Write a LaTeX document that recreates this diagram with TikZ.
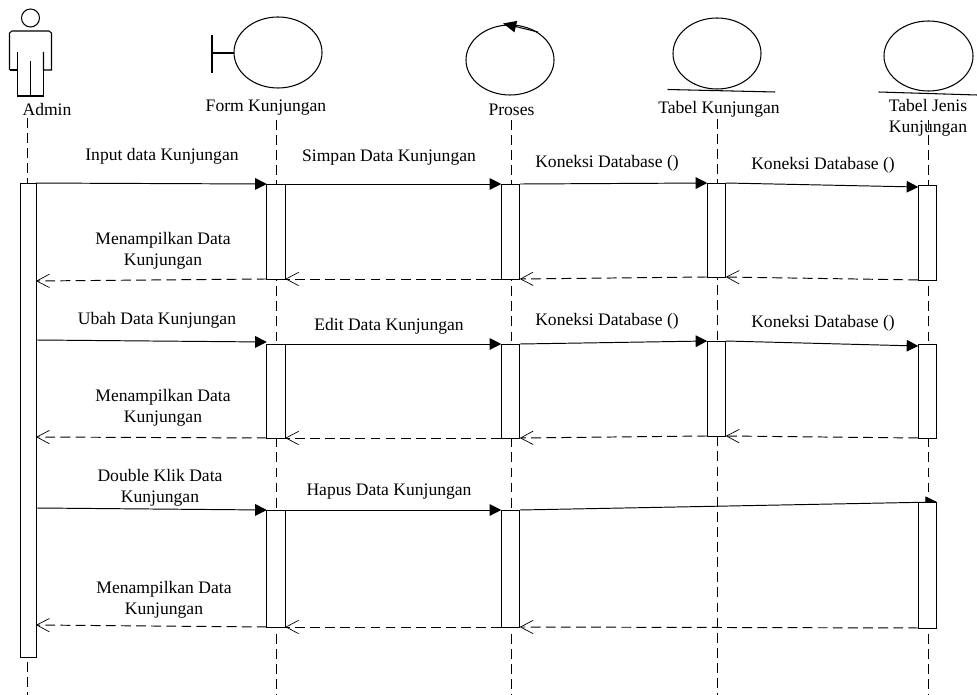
\documentclass[tikz,border=0pt]{standalone}
\usepackage{fontspec}
\setmainfont{Liberation Serif}
\usetikzlibrary{arrows.meta}
\tikzset{
	lifeline/.style={line width=0.55pt, dash pattern=on 5.6pt off 3pt},
	actbar/.style={draw, fill=white, line width=0.55pt, minimum width=0.37cm, inner sep=0pt, outer sep=0pt},
	callmsg/.style={line width=0.55pt, -{Triangle[length=6.6pt, width=6.6pt]}},
	backmsg/.style={line width=0.55pt, dash pattern=on 5.6pt off 3pt, -{Straight Barb[length=7.2pt, width=7.6pt, line width=0.4pt]}},
	caption/.style={font=\fontsize{10pt}{11.9pt}\selectfont, inner sep=0pt, align=center},
	symbol/.style={line width=0.6pt}
}

\begin{document}
\begin{tikzpicture}[x=0.02cm, y=-0.02cm]
	\useasboundingbox (0, 0) rectangle (977, 695);
	%%%%% SYMBOLS %%%%%

	\draw[symbol] (30.5, 18) circle (9);
	\draw[symbol] (9.5, 70) -- (9.5, 33) -- (12, 31) -- (49, 31) -- (51.5, 33) -- (51.5, 70) -- (43.5, 70) -- (43.5, 52);
	\draw[symbol] (9.5, 70) -- (17.5, 70) -- (17.5, 52);
	\draw[symbol] (17.5, 70) -- (17.5, 96) -- (43.5, 96) -- (43.5, 70);
	\draw[symbol] (30.5, 61) -- (30.5, 96);

	\draw[symbol] (212, 35) -- (212, 73);
	\draw[symbol] (212, 53) -- (234, 53);
	\draw[symbol] (278, 52.5) ellipse (44 and 35.5);

	\draw[symbol] (510, 60) ellipse (44 and 35);
	\draw[symbol, -{Triangle[length=7.5pt, width=6.5pt]}] (538, 32) -- (503, 23.5);

	\draw[symbol] (717, 53.5) ellipse (44 and 35.5);
	\draw[symbol] (667.5, 89.5) -- (775, 92);

	\draw[symbol] (928.5, 56) ellipse (44.5 and 35);
	\draw[symbol] (878.5, 92) -- (977, 95);

	\node[caption] (adminlabel) at (47, 109) {Admin};
	\node[caption] (formlabel) at (266, 108) {Form Kunjungan};
	\node[caption] (proseslabel) at (511.5, 110) {Proses};
	\node[caption] (tabelklabel) at (719, 109) {Tabel Kunjungan};
	\node[caption] (tabeljlabel) at (928, 118) {Tabel Jenis\\Kunjungan};

	%%%%% LIFELINES %%%%%

	\coordinate (admintop) at (27, 118);
	\coordinate (adminend) at (27, 695);
	\coordinate (formtop) at (276, 120);
	\coordinate (formend) at (276, 695);
	\coordinate (prosestop) at (511, 120);
	\coordinate (prosesend) at (511, 695);
	\coordinate (tabelktop) at (717, 119);
	\coordinate (tabelkend) at (717, 695);
	\coordinate (tabeljtop) at (928, 120);
	\coordinate (tabeljend) at (928, 695);
	\draw[lifeline] (admintop) -- (adminend);
	\draw[lifeline] (formtop) -- (formend);
	\draw[lifeline] (prosestop) -- (prosesend);
	\draw[lifeline] (tabelktop) -- (tabelkend);
	\draw[lifeline] (tabeljtop) -- (tabeljend);

	%%%%% LAST CALL RUNS UNDER ITS BAR %%%%%

	\coordinate (hapusfrom) at (520, 510);
	\coordinate (hapusto) at (937, 502);
	\draw[callmsg] (hapusfrom) -- (hapusto);

	%%%%% BARS %%%%%

	\node[actbar, minimum width=0.32cm, minimum height=9.5cm] (adminbar) at (28, 420.5) {};

	\node[actbar, minimum height=1.9cm] (forma) at (276, 231.5) {};
	\node[actbar, minimum height=1.88cm] (formb) at (276, 391) {};
	\node[actbar, minimum height=2.34cm] (formc) at (276, 568.5) {};

	\node[actbar, minimum height=1.9cm] (prosesa) at (510.5, 231.5) {};
	\node[actbar, minimum height=1.88cm] (prosesb) at (510.5, 391) {};
	\node[actbar, minimum height=2.34cm] (prosesc) at (510.5, 568.5) {};

	\node[actbar, minimum height=1.88cm] (tabelka) at (716.5, 230) {};
	\node[actbar, minimum height=1.9cm] (tabelkb) at (716.5, 388.5) {};

	\node[actbar, minimum height=1.9cm] (tabelja) at (927.5, 232.5) {};
	\node[actbar, minimum height=1.88cm] (tabeljb) at (927.5, 391) {};
	\node[actbar, minimum height=2.52cm] (tabeljc) at (927.5, 565) {};

	%%%%% MESSAGES %%%%%

	\coordinate (adminback1) at (36, 281);
	\coordinate (admincall2) at (36, 340);
	\coordinate (adminback2) at (36, 437);
	\coordinate (admincall3) at (36, 508);
	\coordinate (adminback3) at (36, 625);

	\draw[callmsg] (adminbar.north east) -- (forma.north west);
	\draw[callmsg] (forma.north east) -- (prosesa.north west);
	\draw[callmsg] (prosesa.north east) -- (tabelka.north west);
	\draw[callmsg] (tabelka.north east) -- ([yshift=-0.04cm]tabelja.north west);
	\draw[backmsg] (tabelja.south west) -- (tabelka.south east);
	\draw[backmsg] (tabelka.south west) -- (prosesa.south east);
	\draw[backmsg] (prosesa.south west) -- (forma.south east);
	\draw[backmsg] (forma.south west) -- (adminback1);

	\draw[callmsg] (admincall2) -- ([yshift=0.04cm]formb.north west);
	\draw[callmsg] (formb.north east) -- (prosesb.north west);
	\draw[callmsg] (prosesb.north east) -- (tabelkb.north west);
	\draw[callmsg] (tabelkb.north east) -- ([yshift=-0.04cm]tabeljb.north west);
	\draw[backmsg] (tabeljb.south west) -- (tabelkb.south east);
	\draw[backmsg] (tabelkb.south west) -- (prosesb.south east);
	\draw[backmsg] (prosesb.south west) -- (formb.south east);
	\draw[backmsg] (formb.south west) -- (adminback2);

	\draw[callmsg] (admincall3) -- (formc.north west);
	\draw[callmsg] (formc.north east) -- (prosesc.north west);
	\draw[backmsg] (tabeljc.south west) -- (prosesc.south east);
	\draw[backmsg] (prosesc.south west) -- (formc.south east);
	\draw[backmsg] (formc.south west) -- (adminback3);

	%%%%% LABELS %%%%%

	\node[caption] (inputlabel) at (162, 156.5) {Input data Kunjungan};
	\node[caption] (simpanlabel) at (389, 157.5) {Simpan Data Kunjungan};
	\node[caption] (koneksia) at (607, 163) {Koneksi Database ()};
	\node[caption] (koneksib) at (823, 165) {Koneksi Database ()};
	\node[caption] (tampila) at (163, 251) {Menampilkan Data\\Kunjungan};

	\node[caption] (ubahlabel) at (157, 320) {Ubah Data Kunjungan};
	\node[caption] (editlabel) at (389, 326.5) {Edit Data Kunjungan};
	\node[caption] (koneksic) at (607, 321) {Koneksi Database ()};
	\node[caption] (koneksid) at (823, 323) {Koneksi Database ()};
	\node[caption] (tampilb) at (163, 408) {Menampilkan Data\\Kunjungan};

	\node[caption] (doublelabel) at (160, 487.5) {Double Klik Data\\Kunjungan};
	\node[caption] (hapuslabel) at (389, 492) {Hapus Data Kunjungan};
	\node[caption] (tampilc) at (164, 600) {Menampilkan Data\\Kunjungan};
\end{tikzpicture}
\end{document}
